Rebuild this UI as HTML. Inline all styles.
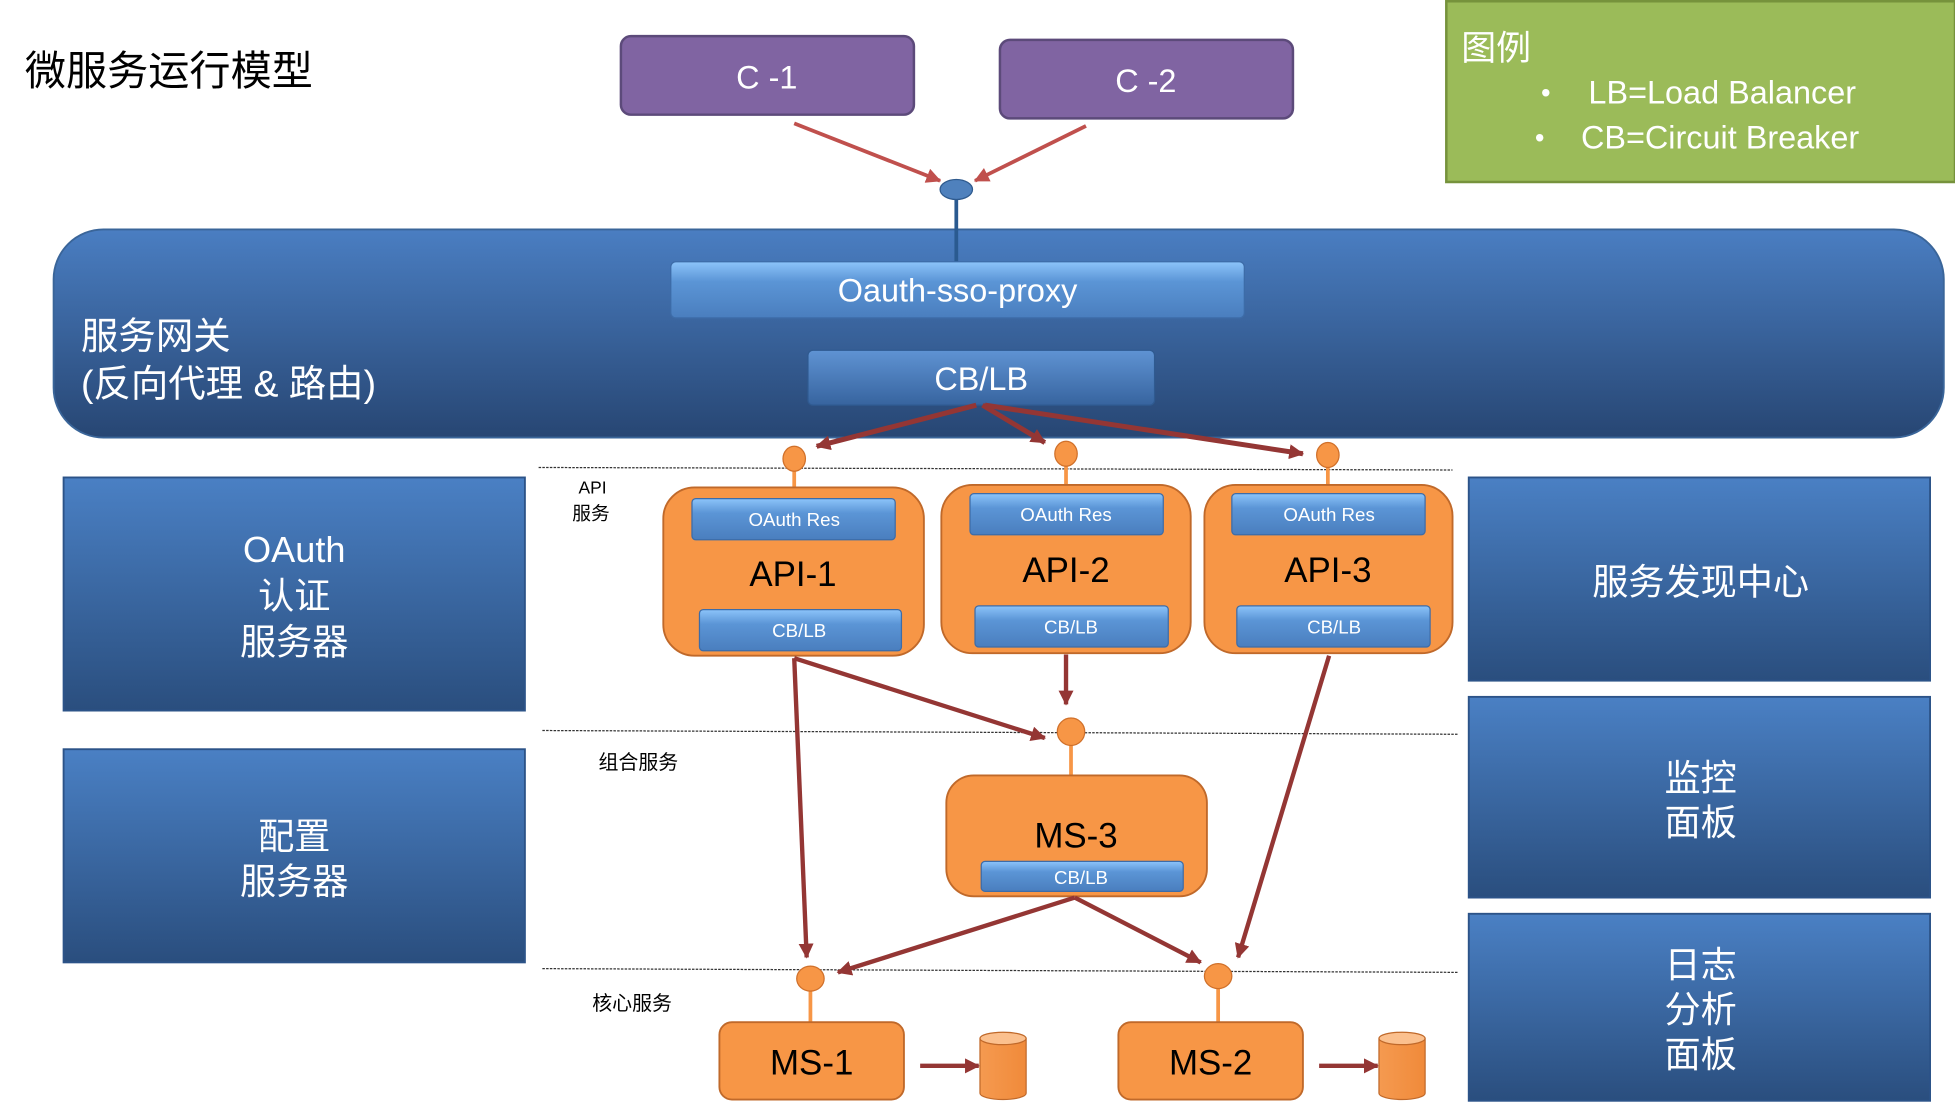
<!DOCTYPE html>
<html><head><meta charset="utf-8"><style>
html,body{margin:0;padding:0;background:#fff;width:1955px;height:1107px;overflow:hidden}
svg{display:block}
text{font-family:"Liberation Sans","Noto Sans CJK SC",sans-serif}
</style></head><body>
<svg width="1955" height="1107" viewBox="0 0 1568 888" preserveAspectRatio="none" xmlns="http://www.w3.org/2000/svg">
<defs>
<linearGradient id="gw" x1="0" y1="0" x2="0" y2="1"><stop offset="0" stop-color="#4A7EC2"/><stop offset="1" stop-color="#274673"/></linearGradient>
<linearGradient id="side" x1="0" y1="0" x2="0" y2="1"><stop offset="0" stop-color="#4A80C4"/><stop offset="1" stop-color="#2A4E7E"/></linearGradient>
<linearGradient id="btn" x1="0" y1="0" x2="0" y2="1"><stop offset="0" stop-color="#8CC4FA"/><stop offset="0.35" stop-color="#5B95D6"/><stop offset="1" stop-color="#4A7EBE"/></linearGradient>
<linearGradient id="btnd" x1="0" y1="0" x2="0" y2="1"><stop offset="0" stop-color="#5F93D3"/><stop offset="1" stop-color="#37649F"/></linearGradient>
<linearGradient id="cyl" x1="0" y1="0" x2="1" y2="0"><stop offset="0" stop-color="#F59A50"/><stop offset="1" stop-color="#F08A3A"/></linearGradient>
<marker id="ar" markerWidth="8" markerHeight="8" refX="7" refY="4" orient="auto" markerUnits="userSpaceOnUse" viewBox="0 0 8 8"><path d="M0,0 L8,4 L0,8 z" fill="#943634"/></marker>
<marker id="ar2" markerWidth="12" markerHeight="12" refX="11" refY="6" orient="auto" markerUnits="userSpaceOnUse" viewBox="0 0 12 12"><path d="M0,0 L12,6 L0,12 z" fill="#943634"/></marker>
<marker id="arr" markerWidth="12" markerHeight="12" refX="11" refY="6" orient="auto" markerUnits="userSpaceOnUse" viewBox="0 0 12 12"><path d="M0,0 L12,6 L0,12 z" fill="#C0504D"/></marker>
</defs>

<text x="20" y="68" font-size="33" fill="#000">微服务运行模型</text>

<rect x="498" y="29" width="235" height="63" rx="8" fill="#8064A2" stroke="#5C4A7A" stroke-width="2"/>
<text x="615" y="71" font-size="26" fill="#fff" text-anchor="middle">C -1</text>
<rect x="802" y="32" width="235" height="63" rx="8" fill="#8064A2" stroke="#5C4A7A" stroke-width="2"/>
<text x="919" y="74" font-size="26" fill="#fff" text-anchor="middle">C -2</text>

<rect x="1160" y="1" width="408" height="145" fill="#9BBB59" stroke="#76923C" stroke-width="2"/>
<text x="1172" y="48" font-size="28" fill="#fff">图例</text>
<text x="1236" y="82" font-size="22" fill="#fff">•</text>
<text x="1274" y="83" font-size="26" fill="#fff">LB=Load Balancer</text>
<text x="1231" y="118" font-size="22" fill="#fff">•</text>
<text x="1268" y="119" font-size="26" fill="#fff">CB=Circuit Breaker</text>

<line x1="637" y1="99" x2="754" y2="145" stroke="#C0504D" stroke-width="3" marker-end="url(#arr)"/>
<line x1="871" y1="101" x2="782" y2="145" stroke="#C0504D" stroke-width="3" marker-end="url(#arr)"/>

<rect x="43" y="184" width="1516" height="167" rx="40" fill="url(#gw)" stroke="#3A6599" stroke-width="1.5"/>
<line x1="767" y1="152" x2="767" y2="212" stroke="#2A5A90" stroke-width="3"/>
<ellipse cx="767" cy="152" rx="13" ry="8" fill="#4F81BD" stroke="#2E5A8E"/>

<rect x="538" y="210" width="460" height="45" rx="4" fill="url(#btn)" stroke="#3D6CA8"/>
<text x="768" y="242" font-size="26" fill="#fff" text-anchor="middle">Oauth-sso-proxy</text>
<rect x="648" y="281" width="278" height="44" rx="4" fill="url(#btnd)" stroke="#2F5A90"/>
<text x="787" y="313" font-size="26" fill="#fff" text-anchor="middle">CB/LB</text>
<text x="65" y="280" font-size="30" fill="#fff">服务网关</text>
<text x="65" y="318" font-size="30" fill="#fff">(反向代理 &amp; 路由)</text>

<g stroke="#333" stroke-width="1" stroke-dasharray="2,1">
<line x1="432" y1="375" x2="1165" y2="377"/>
<line x1="435" y1="586" x2="1170" y2="589"/>
<line x1="435" y1="777" x2="1170" y2="780"/>
</g>

<g stroke="#943634" stroke-width="4">
<line x1="783" y1="325" x2="655" y2="358" marker-end="url(#ar2)"/>
<line x1="788" y1="325" x2="838" y2="355" marker-end="url(#ar2)"/>
<line x1="790" y1="325" x2="1045" y2="364" marker-end="url(#ar2)"/>
</g>

<g stroke="#F79646" stroke-width="3">
<line x1="637" y1="368" x2="637" y2="392"/>
<line x1="855" y1="364" x2="855" y2="390"/>
<line x1="1065" y1="365" x2="1065" y2="390"/>
<line x1="859" y1="587" x2="859" y2="622"/>
<line x1="650" y1="785" x2="650" y2="820"/>
<line x1="977" y1="783" x2="977" y2="820"/>
</g>
<g fill="#F79646" stroke="#D0702A" stroke-width="1">
<ellipse cx="637" cy="368" rx="9" ry="10"/>
<ellipse cx="855" cy="364" rx="9" ry="10"/>
<ellipse cx="1065" cy="365" rx="9" ry="10"/>
<ellipse cx="859" cy="587" rx="11" ry="11"/>
<ellipse cx="650" cy="785" rx="11" ry="10"/>
<ellipse cx="977" cy="783" rx="11" ry="10"/>
</g>

<text x="464" y="396" font-size="14" fill="#000">API</text>
<text x="459" y="417" font-size="15" fill="#000">服务</text>
<text x="480" y="617" font-size="16" fill="#000">组合服务</text>
<text x="475" y="810" font-size="16" fill="#000">核心服务</text>

<!-- API boxes -->
<g stroke="#C0692A" stroke-width="1.5" fill="#F79646">
<rect x="532" y="391" width="209" height="135" rx="25"/>
<rect x="755" y="389" width="200" height="135" rx="25"/>
<rect x="966" y="389" width="199" height="135" rx="25"/>
<rect x="759" y="622" width="209" height="97" rx="22"/>
<rect x="577" y="820" width="148" height="62" rx="10"/>
<rect x="897" y="820" width="148" height="62" rx="10"/>
</g>
<g fill="url(#btn)" stroke="#3D6CA8">
<rect x="555" y="400" width="163" height="33" rx="3"/>
<rect x="561" y="489" width="162" height="33" rx="3"/>
<rect x="778" y="396" width="155" height="33" rx="3"/>
<rect x="782" y="486" width="155" height="33" rx="3"/>
<rect x="988" y="396" width="155" height="33" rx="3"/>
<rect x="992" y="486" width="155" height="33" rx="3"/>
<rect x="787" y="691" width="162" height="24" rx="3"/>
</g>
<g fill="#fff" font-size="15" text-anchor="middle">
<text x="637" y="422">OAuth Res</text>
<text x="641" y="511">CB/LB</text>
<text x="855" y="418">OAuth Res</text>
<text x="859" y="508">CB/LB</text>
<text x="1066" y="418">OAuth Res</text>
<text x="1070" y="508">CB/LB</text>
<text x="867" y="709">CB/LB</text>
</g>
<g fill="#000" font-size="28" text-anchor="middle">
<text x="636" y="470">API-1</text>
<text x="855" y="467">API-2</text>
<text x="1065" y="467">API-3</text>
<text x="863" y="680">MS-3</text>
<text x="651" y="862">MS-1</text>
<text x="971" y="862">MS-2</text>
</g>

<g stroke="#943634" stroke-width="3.5">
<line x1="855" y1="525" x2="855" y2="565" marker-end="url(#ar2)"/>
<line x1="637" y1="528" x2="838" y2="592" marker-end="url(#ar2)"/>
<line x1="637" y1="528" x2="647" y2="768" marker-end="url(#ar2)"/>
<line x1="1066" y1="526" x2="993" y2="768" marker-end="url(#ar2)"/>
<line x1="862" y1="720" x2="672" y2="780" marker-end="url(#ar2)"/>
<line x1="862" y1="720" x2="963" y2="772" marker-end="url(#ar2)"/>
<line x1="738" y1="855" x2="785" y2="855" marker-end="url(#ar2)"/>
<line x1="1058" y1="855" x2="1105" y2="855" marker-end="url(#ar2)"/>
</g>

<!-- cylinders -->
<g stroke="#C0692A" stroke-width="1">
<path d="M786,833 L786,877 A18.5,5 0 0 0 823,877 L823,833" fill="url(#cyl)"/>
<ellipse cx="804.5" cy="833" rx="18.5" ry="5" fill="#FBC08E"/>
<path d="M1106,833 L1106,877 A18.5,5 0 0 0 1143,877 L1143,833" fill="url(#cyl)"/>
<ellipse cx="1124.5" cy="833" rx="18.5" ry="5" fill="#FBC08E"/>
</g>

<!-- side boxes -->
<g fill="url(#side)" stroke="#2C5388" stroke-width="1.5">
<rect x="51" y="383" width="370" height="187"/>
<rect x="51" y="601" width="370" height="171"/>
<rect x="1178" y="383" width="370" height="163"/>
<rect x="1178" y="559" width="370" height="161"/>
<rect x="1178" y="733" width="370" height="150"/>
</g>
<g fill="#fff" font-size="29" text-anchor="middle">
<text x="236" y="451">OAuth</text>
<text x="236" y="488">认证</text>
<text x="236" y="525">服务器</text>
<text x="236" y="681">配置</text>
<text x="236" y="717">服务器</text>
<text x="1364" y="477">服务发现中心</text>
<text x="1364" y="634">监控</text>
<text x="1364" y="670">面板</text>
<text x="1364" y="784">日志</text>
<text x="1364" y="820">分析</text>
<text x="1364" y="856">面板</text>
</g>
</svg>
</body></html>
